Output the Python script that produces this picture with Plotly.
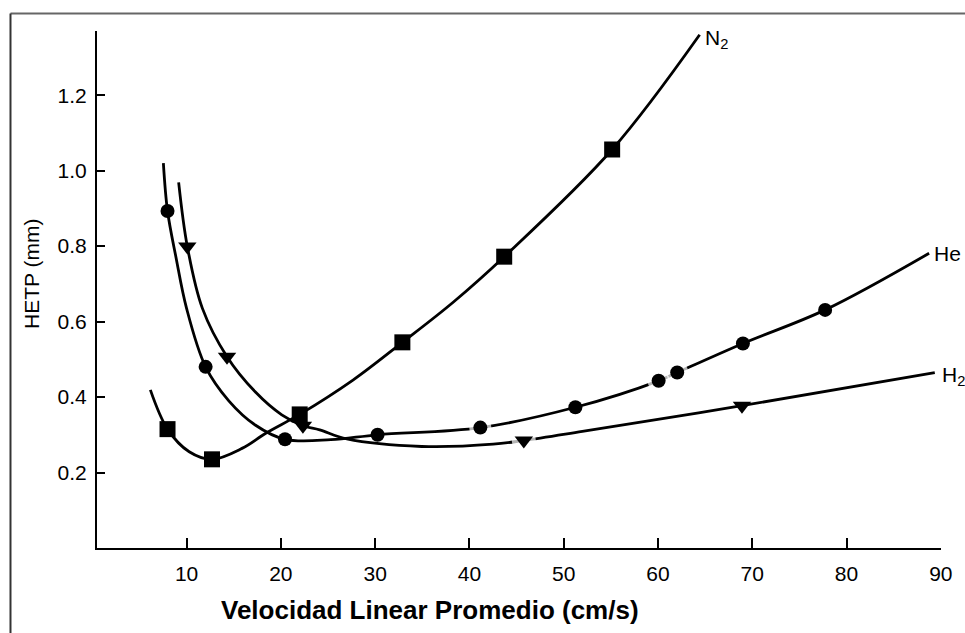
import plotly.graph_objects as go

# ---- data (x: cm/s, y: HETP mm) ----
n2_curve_x = [6.16, 7.98, 10.28, 12.7, 15.88, 18.4, 22.0, 27.65, 32.89, 38.31, 43.69, 55.14, 64.42]
n2_curve_y = [0.419, 0.315, 0.255, 0.235, 0.264, 0.304, 0.354, 0.445, 0.545, 0.652, 0.772, 1.056, 1.36]
n2_pts_x = [7.98, 12.7, 22.0, 32.89, 43.69, 55.14]
n2_pts_y = [0.315, 0.235, 0.354, 0.545, 0.772, 1.056]

he_curve_x = [7.54, 7.98, 8.88, 10.0, 12.02, 14.48, 17.28, 20.44, 25.3, 30.26, 41.16, 51.24, 60.07, 62.04, 69.01, 77.73, 88.76]
he_curve_y = [1.02, 0.893, 0.77, 0.635, 0.48, 0.39, 0.326, 0.288, 0.287, 0.30, 0.319, 0.373, 0.443, 0.465, 0.542, 0.631, 0.781]
he_pts_x = [7.98, 12.02, 20.44, 30.26, 41.16, 51.24, 60.07, 62.04, 69.01, 77.73]
he_pts_y = [0.893, 0.48, 0.288, 0.30, 0.319, 0.373, 0.443, 0.465, 0.542, 0.631]
he_gap = [0, 0, 0, 0, 1, 0, 1, 1, 0, 0]

h2_curve_x = [9.16, 10.08, 11.68, 14.29, 17.28, 20.1, 22.34, 24.12, 27.0, 34.94, 42.52, 45.77, 51.98, 68.91, 89.36]
h2_curve_y = [0.969, 0.799, 0.635, 0.507, 0.414, 0.353, 0.324, 0.313, 0.289, 0.269, 0.275, 0.285, 0.309, 0.377, 0.465]
h2_pts_x = [10.08, 14.29, 22.34, 45.77, 68.91]
h2_pts_y = [0.799, 0.507, 0.324, 0.285, 0.377]
h2_gap = [0, 0, 0, 1, 0]

x_ticks = [10, 20, 30, 40, 50, 60, 70, 80, 90]
y_ticks = [0.2, 0.4, 0.6, 0.8, 1.0, 1.2]

series_labels = ["N<sub>2</sub>", "He", "H<sub>2</sub>"]
x_title = "Velocidad Linear Promedio (cm/s)"
y_title = "HETP (mm)"

FONT = "Arial, 'Liberation Sans', Helvetica, sans-serif"
LW = 2.8

fig = go.Figure()

# curves
for cx, cy in [(n2_curve_x, n2_curve_y), (he_curve_x, he_curve_y), (h2_curve_x, h2_curve_y)]:
    fig.add_trace(go.Scatter(x=cx, y=cy, mode="lines",
                             line=dict(color="black", width=LW, shape="spline", smoothing=1.0),
                             hoverinfo="skip", showlegend=False, cliponaxis=False))

# white halos producing the small gaps in the lines around some markers
fig.add_trace(go.Scatter(x=he_pts_x, y=he_pts_y, mode="markers",
                         marker=dict(color="white", size=[g * 22 for g in he_gap], line=dict(width=0)),
                         hoverinfo="skip", showlegend=False))
fig.add_trace(go.Scatter(x=h2_pts_x, y=h2_pts_y, mode="markers",
                         marker=dict(color="white", size=[g * 24 for g in h2_gap], line=dict(width=0)),
                         hoverinfo="skip", showlegend=False))

# markers
fig.add_trace(go.Scatter(x=n2_pts_x, y=n2_pts_y, mode="markers", name="N2",
                         marker=dict(symbol="square", size=16, color="black", line=dict(width=0)),
                         showlegend=False))
fig.add_trace(go.Scatter(x=he_pts_x, y=he_pts_y, mode="markers", name="He",
                         marker=dict(symbol="circle", size=14, color="black", line=dict(width=0)),
                         showlegend=False))
fig.add_trace(go.Scatter(x=h2_pts_x, y=h2_pts_y, mode="markers", name="H2",
                         marker=dict(symbol="triangle-down", size=16, color="black", line=dict(width=0)),
                         showlegend=False))

# curve labels
ends = [(n2_curve_x[-1], n2_curve_y[-1]), (he_curve_x[-1], he_curve_y[-1]), (h2_curve_x[-1], h2_curve_y[-1])]
shifts = [(3, -4), (3, 0), (5, -3)]
for (ex, ey), lab, (sx, sy) in zip(ends, series_labels, shifts):
    fig.add_annotation(x=ex, y=ey, text=lab, showarrow=False, xanchor="left", yanchor="middle",
                       xshift=sx, yshift=sy, font=dict(family=FONT, size=21, color="black"))

# axis titles
fig.add_annotation(xref="paper", yref="paper", x=0.3946, y=-0.12, text="<b>" + x_title + "</b>",
                   showarrow=False, xanchor="center", yanchor="middle",
                   font=dict(family=FONT, size=26, color="black"))
fig.add_annotation(xref="paper", yref="paper", x=-0.077, y=0.53, text=y_title, textangle=-90,
                   showarrow=False, xanchor="center", yanchor="middle",
                   font=dict(family=FONT, size=21, color="black"))

# frame lines of the scanned page (top and left)
fig.add_shape(type="line", xref="paper", yref="paper", x0=-0.1025, x1=1.03, y0=1.034, y1=1.034,
              line=dict(color="#666666", width=2))
fig.add_shape(type="line", xref="paper", yref="paper", x0=-0.1025, x1=-0.1025, y0=1.034, y1=-0.17,
              line=dict(color="#333333", width=2))

fig.update_layout(
    width=965, height=633,
    margin=dict(l=97, r=24, t=31, b=85),
    paper_bgcolor="white", plot_bgcolor="white",
    font=dict(family=FONT, color="black"),
    showlegend=False,
    xaxis=dict(range=[0.5, 90.02], tickvals=x_ticks, ticktext=[str(v) for v in x_ticks],
               showgrid=False, zeroline=False, showline=True, linecolor="black", linewidth=2,
               ticks="inside", ticklen=10, tickwidth=2, tickcolor="black",
               tickfont=dict(family=FONT, size=21, color="black"), ticklabelstandoff=6),
    yaxis=dict(range=[0.0, 1.37], tickvals=y_ticks, ticktext=["%.1f" % v for v in y_ticks],
               showgrid=False, zeroline=False, showline=True, linecolor="black", linewidth=2,
               ticks="inside", ticklen=8, tickwidth=2, tickcolor="black",
               tickfont=dict(family=FONT, size=21, color="black"), ticklabelstandoff=4),
)

fig.write_html("out.html")
